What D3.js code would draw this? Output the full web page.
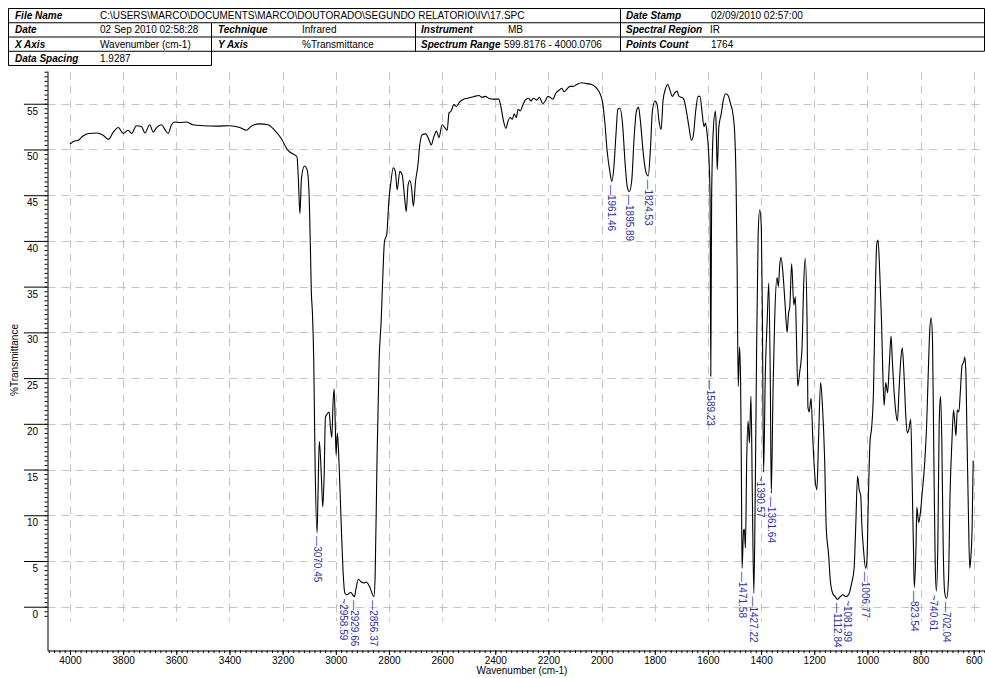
<!DOCTYPE html>
<html>
<head>
<meta charset="utf-8">
<script src="https://cdn.jsdelivr.net/npm/d3@7"></script>
<style>
html,body{margin:0;padding:0;background:#fff;}
svg{display:block;font-family:"Liberation Sans",Arial,sans-serif;}
</style>
</head>
<body>
<svg id="chart" width="985" height="678"></svg>
<script>
// ---------------- data ----------------
const wavenumber = [4000,3985,3969,3950,3931,3900,3875,3856,3837,3818,3800,3781,3768,3750,3731,3718,3700,3687,3674,3656,3643,3631,3618,3606,3587,3562,3537,3499,3449,3399,3361,3336,3318,3286,3255,3230,3205,3180,3161,3146,3141,3135,3129,3118,3108,3101,3096,3092,3088,3083,3078,3070.45,3067,3062,3054,3049,3044,3039,3032,3025,3020,3015,3010,3006,3002,2999,2994,2988,2979,2973,2966,2958.59,2944,2929.66,2925,2915,2904,2895,2885,2873,2856.37,2852,2845,2837,2829,2823,2817,2808,2800,2794,2784,2776,2769,2759,2750,2741,2735,2728,2721,2715,2708,2700,2691,2684,2675,2662,2650,2641,2631,2621,2612,2600,2590,2581,2574,2566,2556,2546,2534,2519,2504,2491,2479,2462,2450,2437,2425,2406,2387,2379,2369,2360,2352,2344,2336,2329,2321,2314,2306,2296,2287,2275,2266,2256,2244,2234,2221,2212,2202,2194,2184,2171,2159,2150,2141,2131,2119,2106,2094,2075,2056,2037,2019,2006,1996,1987,1979,1969,1961.46,1954,1946,1939,1931,1921,1912,1904,1895.89,1887,1877,1869,1861,1854,1844,1834,1824.53,1816,1809,1799,1791,1784,1776,1769,1760,1751,1744,1734,1725,1716,1709,1700,1691,1681,1671,1662,1655,1646,1637,1630,1621,1615,1609,1603,1597,1592,1589.23,1586,1580,1572,1569,1565,1559,1550,1542,1534,1524,1515,1506,1499,1494,1490,1486,1481,1477,1474,1471.58,1466,1463,1459,1454,1449,1444,1438,1433,1427.22,1422,1417,1411,1405,1399,1395,1390.57,1384,1377,1371,1365,1361.64,1355,1349,1340,1335,1330,1325,1317,1310,1302,1297,1292,1285,1277,1271,1267,1262,1255,1246,1240,1234,1227,1224,1219,1212,1205,1197,1190,1184,1176,1169,1161,1155,1146,1140,1131,1121,1112.84,1102,1092,1081.99,1071,1059,1050,1044,1037,1031,1025,1021,1015,1006.77,1002,996,990,984,977,971,965,960,954,947,942,937,931,924,917,911,906,900,894,887,881,875,869,862,856,850,844,837,832,827,823.54,817,814,807,801,794,785,777,771,765,760,755,750,745,740.61,735,730,725,720,715,709,702.04,695,689,682,676,671,667,662,656,650,644,637,634,630,625,620,615,611,606,602];
const transmittance = [50.6,50.9,51.0,51.5,51.75,51.8,51.55,51.1,51.9,52.4,51.75,52.1,51.75,52.6,52.5,51.8,52.7,51.9,52.4,52.7,52.2,51.75,52.7,53.0,52.95,53.0,52.7,52.6,52.55,52.6,52.4,52.1,52.55,52.8,52.7,52.1,51.2,49.9,49.5,49.2,46.9,43.0,46.9,48.2,47.8,45.5,39.9,34.4,32.2,27.0,15.9,8.1,12.2,18.1,14.1,10.9,14.1,20.7,21.1,21.3,19.6,18.5,22.5,23.8,20.0,16.6,19.0,15.9,8.5,4.1,1.5,1.3,1.55,1.1,1.8,3.0,2.7,2.6,2.7,2.2,1.1,3.3,15.9,27.0,31.4,36.2,39.9,40.8,44.5,46.1,48.0,47.6,45.6,47.6,47.2,44.7,43.2,46.1,46.6,45.8,43.8,46.5,48.3,50.5,51.6,51.7,51.1,50.5,51.4,52.0,51.3,52.7,52.4,52.1,54.0,54.2,54.9,54.7,55.2,55.5,55.6,55.7,55.8,55.9,55.7,55.8,55.6,55.5,55.5,54.7,53.1,52.3,53.1,53.5,53.3,53.9,53.5,54.4,54.2,54.9,55.4,55.6,55.3,55.6,55.4,55.7,55.0,55.3,55.8,55.7,55.5,56.2,56.5,56.7,56.3,56.6,56.9,56.9,57.1,57.3,57.2,57.1,56.7,56.1,55.1,52.7,49.8,47.6,46.5,48.0,51.6,54.4,54.5,52.7,48.7,46.0,45.4,46.5,51.6,54.2,54.6,53.1,49.8,47.6,47.1,50.2,54.2,55.3,54.9,53.1,52.2,55.3,56.6,57.1,56.6,55.8,56.2,56.4,55.8,55.7,55.5,54.2,52.4,51.0,51.5,54.2,55.8,55.8,53.8,52.5,52.9,51.7,49.5,45.0,25.2,45.0,52.0,54.2,52.7,47.8,52.4,53.9,55.4,56.1,55.9,55.0,53.9,51.6,46.3,36.9,24.1,28.4,24.5,14.3,4.2,8.3,8.5,6.4,16.2,20.3,17.9,23.0,12.4,1.5,12.4,27.5,40.7,43.4,41.4,31.3,14.7,25.6,31.3,35.4,23.7,12.4,23.7,31.3,36.0,35.0,37.3,38.2,36.2,33.2,30.0,32.0,32.8,37.5,33.0,33.9,29.4,24.1,25.6,28.3,35.0,38.1,31.3,21.9,21.3,22.8,18.1,14.0,12.8,18.1,24.5,21.9,16.2,8.7,5.7,3.0,1.5,1.1,0.8,1.1,1.3,1.1,1.3,2.6,4.2,8.7,14.3,12.8,12.1,9.0,6.4,4.2,4.9,12.4,18.1,19.6,23.7,33.2,39.6,40.1,36.9,31.3,25.6,22.0,24.5,23.4,26.8,29.6,26.8,23.7,21.5,20.3,23.7,26.8,28.3,25.2,21.1,19.0,19.4,20.5,14.3,6.8,2.1,6.8,10.9,9.2,10.2,12.4,15.5,20.0,25.6,30.5,31.6,29.0,16.2,4.9,1.7,6.8,20.0,23.0,18.1,6.8,1.5,0.9,3.0,12.4,18.1,21.5,20.0,18.7,21.5,21.3,23.7,26.4,26.8,27.3,26.0,18.1,10.2,4.2,5.3,8.7,16.0];

const peakWavenumbers = [3070.45,2958.59,2929.66,2856.37,1961.46,1895.89,1824.53,1589.23,1471.58,1427.22,1390.57,1361.64,1112.84,1081.99,1006.77,823.54,740.61,702.04];
const peakTransmittance = [8.1,1.3,1.1,1.1,46.5,45.4,47.1,25.2,4.2,1.5,14.7,12.4,0.8,1.1,4.2,2.1,1.7,0.9];
const peakLeaders = ["—","~","—","—","—","—","—","—","—","—","~","—","—","~","—","—","~","—"];

const xTickLabels = [4000,3800,3600,3400,3200,3000,2800,2600,2400,2200,2000,1800,1600,1400,1200,1000,800,600];
const yTickLabels = [0,5,10,15,20,25,30,35,40,45,50,55];

const headerRows = [
  [["File Name","C:\\USERS\\MARCO\\DOCUMENTS\\MARCO\\DOUTORADO\\SEGUNDO RELATORIO\\IV\\17.SPC"],["Date Stamp","02/09/2010 02:57:00"]],
  [["Date","02 Sep 2010 02:58:28"],["Technique","Infrared"],["Instrument","MB"],["Spectral Region","IR"]],
  [["X Axis","Wavenumber (cm-1)"],["Y Axis","%Transmittance"],["Spectrum Range","599.8176 - 4000.0706"],["Points Count","1764"]],
  [["Data Spacing","1.9287"]]
];

// ---------------- layout ----------------
const svg = d3.select("#chart");
const FONT = 10;
const x = d3.scaleLinear().domain([4082.7, 557.6]).range([48, 985]);
const y = d3.scaleLinear().domain([-4.81, 58.58]).range([650.7, 71]);
const axisX = 47.5, axisY = 650.5;

// ---------------- header table ----------------
const tTop = 8.5, rowH = 14.25, tLeft = 8.5, tRight = 984.5;
const hdr = svg.append("g").attr("class","header");
const rowLines = [0,1,2,3].map(i => tTop + i*rowH);
// horizontal lines
hdr.append("line").attr("x1",tLeft).attr("x2",tRight).attr("y1",rowLines[0]).attr("y2",rowLines[0]);
hdr.append("line").attr("x1",tLeft).attr("x2",tRight).attr("y1",rowLines[1]).attr("y2",rowLines[1]);
hdr.append("line").attr("x1",tLeft).attr("x2",tRight).attr("y1",rowLines[2]).attr("y2",rowLines[2]);
hdr.append("line").attr("x1",tLeft).attr("x2",tRight).attr("y1",rowLines[3]).attr("y2",rowLines[3]);
hdr.append("line").attr("x1",tLeft).attr("x2",211.5).attr("y1",tTop+4*rowH).attr("y2",tTop+4*rowH);
// vertical lines
hdr.append("line").attr("x1",tLeft).attr("x2",tLeft).attr("y1",tTop).attr("y2",tTop+4*rowH);
hdr.append("line").attr("x1",211.5).attr("x2",211.5).attr("y1",rowLines[1]).attr("y2",tTop+4*rowH);
hdr.append("line").attr("x1",415.5).attr("x2",415.5).attr("y1",rowLines[1]).attr("y2",rowLines[3]);
hdr.append("line").attr("x1",620.5).attr("x2",620.5).attr("y1",tTop).attr("y2",rowLines[3]);
hdr.append("line").attr("x1",tRight).attr("x2",tRight).attr("y1",tTop).attr("y2",rowLines[3]);
hdr.selectAll("line").attr("stroke","#000").attr("stroke-width",1);

const colLabelX = {"File Name":15,"Date":15,"X Axis":15,"Data Spacing":15,
  "Technique":218,"Y Axis":218,"Instrument":421,"Spectrum Range":421,
  "Date Stamp":626,"Spectral Region":626,"Points Count":626};
const colValueX = {"File Name":100,"Date":100,"X Axis":100,"Data Spacing":100,
  "Technique":302,"Y Axis":302,"Instrument":508,"Spectrum Range":504,
  "Date Stamp":711,"Spectral Region":710,"Points Count":711};
headerRows.forEach((row, i) => {
  const base = tTop + i*rowH + 10.6;
  row.forEach(([lab, val]) => {
    hdr.append("text").attr("x", colLabelX[lab]).attr("y", base)
      .attr("font-size", FONT).attr("font-weight","bold").attr("font-style","italic").text(lab);
    hdr.append("text").attr("x", colValueX[lab]).attr("y", base)
      .attr("font-size", FONT).text(val);
  });
});

// ---------------- grid ----------------
const grid = svg.append("g").attr("class","grid");
grid.selectAll("line.h").data(yTickLabels).join("line")
  .attr("class","h")
  .attr("x1", axisX).attr("x2", 985)
  .attr("y1", d => Math.round(y(d))+0.5).attr("y2", d => Math.round(y(d))+0.5)
  .attr("stroke","#c4c4c4").attr("stroke-width",1).attr("stroke-dasharray","8,6");
grid.selectAll("line.v").data(xTickLabels).join("line")
  .attr("class","v")
  .attr("x1", d => Math.round(x(d))+0.5).attr("x2", d => Math.round(x(d))+0.5)
  .attr("y1", 72).attr("y2", y(-1.6))
  .attr("stroke","#c4c4c4").attr("stroke-width",1).attr("stroke-dasharray","8,6");

// ---------------- axes ----------------
const minorX = d3.range(4080, 555, -20);
const gx = svg.append("g").attr("transform", `translate(0,${axisY})`)
  .call(d3.axisBottom(x).tickValues(minorX).tickSize(2.5).tickSizeOuter(0).tickFormat(""));
gx.select(".domain").attr("stroke","#000");
gx.selectAll(".tick line").attr("stroke","#000");
const gx2 = svg.append("g").attr("transform", `translate(0,${axisY})`)
  .call(d3.axisBottom(x).tickValues(xTickLabels).tickSize(4.5).tickSizeOuter(0).tickFormat(d3.format("d")));
gx2.select(".domain").remove();
gx2.selectAll(".tick line").attr("stroke","#000");
gx2.selectAll("text").attr("y", 6.5).attr("dy","0.71em")
  .attr("font-size", FONT).attr("font-family","Liberation Sans, Arial, sans-serif").attr("fill","#000");

const minorY = d3.range(-1, 58.51, 0.5);
const gy = svg.append("g").attr("transform", `translate(${axisX},0)`)
  .call(d3.axisLeft(y).tickValues(minorY).tickSize(3).tickSizeOuter(0).tickFormat(""));
gy.select(".domain").attr("stroke","#000");
gy.selectAll(".tick line").attr("stroke","#000");
const gy2 = svg.append("g").attr("transform", `translate(${axisX},0)`)
  .call(d3.axisLeft(y).tickValues(yTickLabels).tickSize(23.5).tickSizeOuter(0).tickFormat(d3.format("d")));
gy2.select(".domain").remove();
gy2.selectAll(".tick line").attr("stroke","#000");
gy2.selectAll("text").attr("x", -9.5).attr("dy", 0).attr("y", 10.5)
  .attr("text-anchor","end").attr("font-size", FONT)
  .attr("font-family","Liberation Sans, Arial, sans-serif").attr("fill","#000");

svg.append("text").attr("x", 522).attr("y", 674).attr("text-anchor","middle")
  .attr("font-size", FONT).text("Wavenumber (cm-1)");
svg.append("text").attr("transform","translate(18,360) rotate(-90)").attr("text-anchor","middle")
  .attr("font-size", FONT).text("%Transmittance");

// ---------------- spectrum ----------------
const pts = wavenumber.map((w,i) => [w, transmittance[i]]);
const line = d3.line().x(d => x(d[0])).y(d => y(d[1])).curve(d3.curveMonotoneX);
svg.append("path").datum(pts).attr("d", line)
  .attr("fill","none").attr("stroke","#000").attr("stroke-width",1.1).attr("stroke-linejoin","round");

// ---------------- peak labels ----------------
const lab = svg.append("g").attr("class","peaks");
peakWavenumbers.forEach((w, i) => {
  let px = x(w);
  if (peakLeaders[i] === "~") {
    // shift away from nearest neighbouring label
    let best = null, bd = Infinity;
    peakWavenumbers.forEach((w2, j) => { if (j !== i) { const d = Math.abs(x(w2) - px); if (d < bd) { bd = d; best = x(w2); } } });
    px += (best > px ? -3 : 2);
  }
  const py = y(peakTransmittance[i]) + 3.5;
  lab.append("text")
    .attr("transform", `translate(${px},${py}) rotate(90)`)
    .attr("dominant-baseline","central")
    .attr("font-size", FONT).attr("fill","#2f2fa0")
    .text(peakLeaders[i] + peakWavenumbers[i].toFixed(2));
});
</script>
</body>
</html>
